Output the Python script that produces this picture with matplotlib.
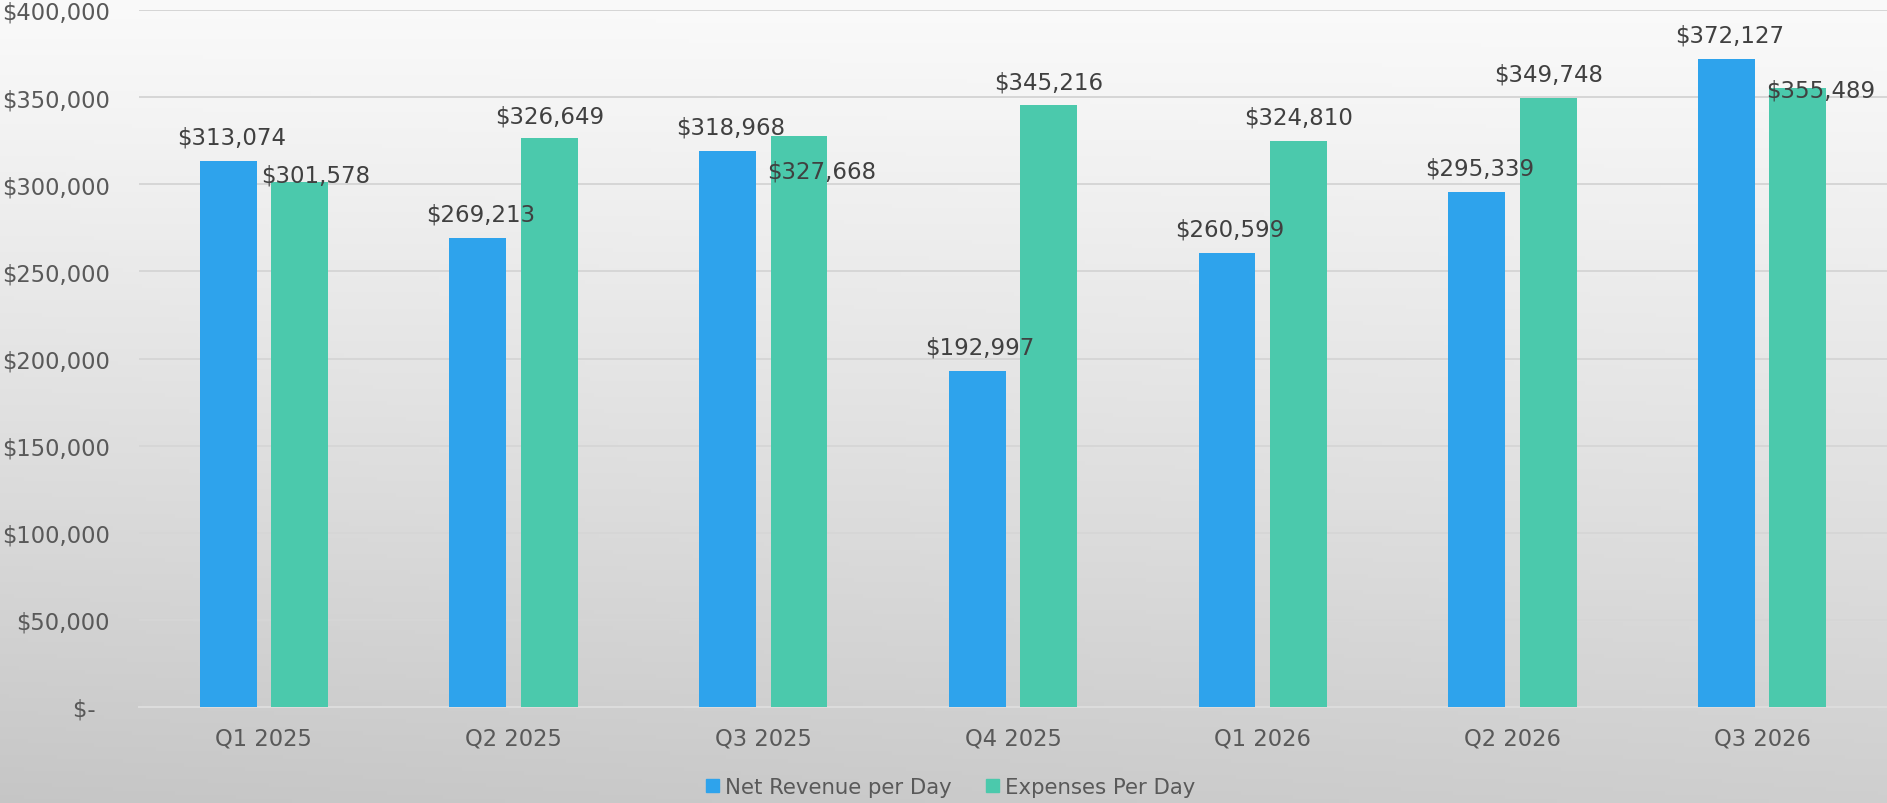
import numpy as np
import matplotlib
matplotlib.use("Agg")
import matplotlib.pyplot as plt
from matplotlib.patches import Patch

categories = ["Q1 2025", "Q2 2025", "Q3 2025", "Q4 2025", "Q1 2026", "Q2 2026", "Q3 2026"]
net_revenue = [313074, 269213, 318968, 192997, 260599, 295339, 372127]
expenses = [301578, 326649, 327668, 345216, 324810, 349748, 355489]
series_names = ["Net Revenue per Day", "Expenses Per Day"]
yticks = [0, 50000, 100000, 150000, 200000, 250000, 300000, 350000, 400000]

blue = "#2EA3EC"
green = "#4BC9AC"
label_col = "#404040"
tick_col = "#595959"

plt.rcParams['font.family'] = ['DejaVu Sans']
W, H, DPI = 1887, 804, 100
fig = plt.figure(figsize=(W / DPI, H / DPI), dpi=DPI)

# background gradient
bg = fig.add_axes([0, 0, 1, 1], zorder=-10)
yy, xx = np.mgrid[0:1:200j, 0:1:400j]
vals = 0.98 - 0.17 * yy ** 1.1 - 0.035 * (1 - xx) * yy
bg.imshow(np.dstack([vals, vals, vals]), aspect='auto', extent=[0, 1, 0, 1], origin='upper')
bg.axis('off')

ax = fig.add_axes([139 / W, 1 - 708 / H, 1 - 139 / W, (708 - 11) / H])
ax.patch.set_alpha(0)
x = np.arange(len(categories))
bw = 0.228
off = 0.143
b1 = ax.bar(x - off, net_revenue, bw, color=blue, zorder=3)
b2 = ax.bar(x + off, expenses, bw, color=green, zorder=3)

ax.set_xlim(-0.5, len(categories) - 0.5)
ax.set_ylim(0, 400000)
ax.set_yticks(yticks)
ax.set_yticklabels(["$-  " if v == 0 else "${:,.0f}".format(v) for v in yticks])
ax.set_xticks(x)
ax.set_xticklabels(categories)
ax.tick_params(axis='both', length=0, labelsize=16.3, labelcolor=tick_col)
ax.tick_params(axis='y', pad=21)
ax.tick_params(axis='x', pad=14)
ax.grid(axis='y', color='#d6d6d6', linewidth=1.4, zorder=0)
for s in ['top', 'right', 'left']:
    ax.spines[s].set_visible(False)
ax.spines['bottom'].set_color('#dcdcdc')
ax.spines['bottom'].set_linewidth(1.5)

px = 72 / DPI  # pixel -> points
# label offsets in pixels (dx, dy of label center relative to bar top center)
rev_offsets = [(3, 24)] * 7
exp_offsets = [(16, 7), (0, 22), (23, -35), (0, 23), (0, 24), (0, 24), (23, -2)]
for bars, vals_, offs in [(b1, net_revenue, rev_offsets), (b2, expenses, exp_offsets)]:
    for r, v, (dx, dy) in zip(bars, vals_, offs):
        ax.annotate("${:,.0f}".format(v), (r.get_x() + r.get_width() / 2, v),
                    xytext=(dx * px, dy * px), textcoords='offset points',
                    ha='center', va='center', fontsize=16.5, color=label_col, zorder=5)

handles = [Patch(color=blue), Patch(color=green)]
fig.legend(handles, series_names, loc='center', bbox_to_anchor=(951 / W, 1 - 788 / H),
           ncol=2, frameon=False, fontsize=15.3, labelcolor=tick_col,
           handlelength=0.6, handleheight=0.6, handletextpad=0.3, columnspacing=1.6)

fig.savefig("out.png", dpi=DPI)
